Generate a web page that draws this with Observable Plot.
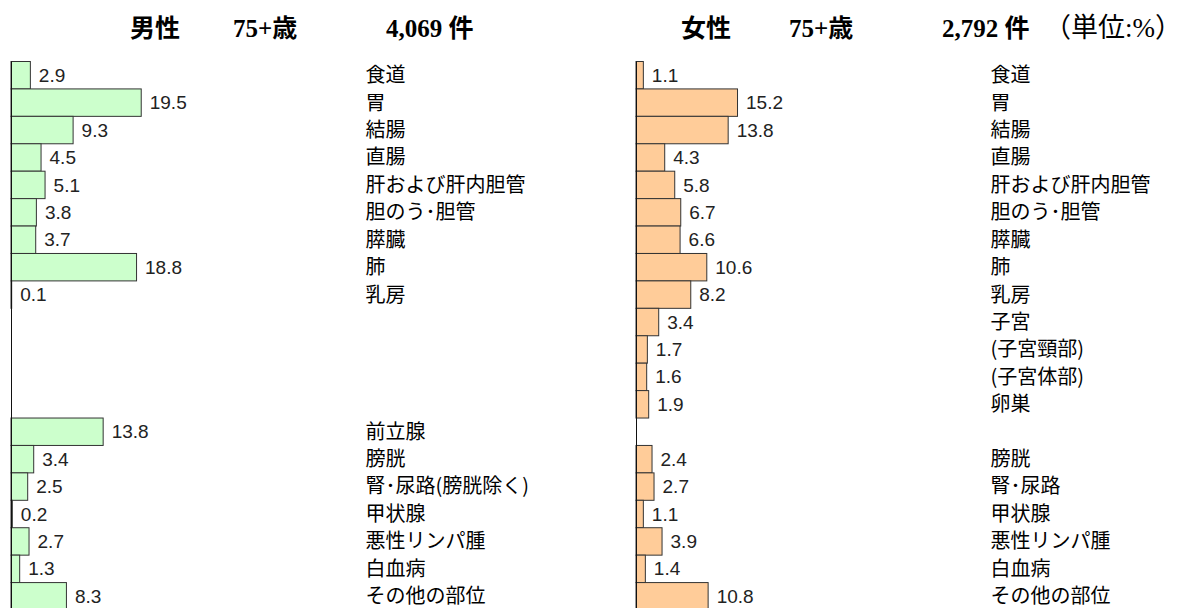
<!DOCTYPE html>
<html>
<head>
<meta charset="utf-8">
<script src="https://cdn.jsdelivr.net/npm/d3@7"></script>
<script src="https://cdn.jsdelivr.net/npm/@observablehq/plot@0.6"></script>
<style>
  html, body { margin: 0; padding: 0; background: #fff; }
  body { width: 1193px; height: 608px; position: relative; overflow: hidden; }
  .t { position: absolute; top: 16px; line-height: 25px; font-size: 25px; font-weight: bold;
       font-family: "Liberation Serif", "Noto Sans CJK JP", serif; white-space: nowrap; color: #000; }
  .u { font-weight: normal; font-size: 27px; }
  .panel { position: absolute; top: 50px; }
</style>
</head>
<body>
<div id="titles"></div>
<div id="male" class="panel" style="left:0px"></div>
<div id="female" class="panel" style="left:596px"></div>
<script>
// ---- data ----
const maleTitle = ["男性", "75+歳", "4,069 件"];
const femaleTitle = ["女性", "75+歳", "2,792 件"];
const unitLabel = "（単位:%）";

const maleLabels = ["食道", "胃", "結腸", "直腸", "肝および肝内胆管", "胆のう･胆管", "膵臓", "肺", "乳房",
  "", "", "", "", "前立腺", "膀胱", "腎･尿路(膀胱除く)", "甲状腺", "悪性リンパ腫", "白血病", "その他の部位"];
const maleValues = [2.9, 19.5, 9.3, 4.5, 5.1, 3.8, 3.7, 18.8, 0.1,
  null, null, null, null, 13.8, 3.4, 2.5, 0.2, 2.7, 1.3, 8.3];

const femaleLabels = ["食道", "胃", "結腸", "直腸", "肝および肝内胆管", "胆のう･胆管", "膵臓", "肺", "乳房",
  "子宮", "(子宮頸部)", "(子宮体部)", "卵巣", "", "膀胱", "腎･尿路", "甲状腺", "悪性リンパ腫", "白血病", "その他の部位"];
const femaleValues = [1.1, 15.2, 13.8, 4.3, 5.8, 6.7, 6.6, 10.6, 8.2,
  3.4, 1.7, 1.6, 1.9, null, 2.4, 2.7, 1.1, 3.9, 1.4, 10.8];

// ---- titles ----
const titleDiv = document.getElementById("titles");
function addTitle(text, left, cls) {
  const s = document.createElement("span");
  s.className = "t" + (cls ? " " + cls : "");
  s.style.left = left + "px";
  s.textContent = text;
  titleDiv.appendChild(s);
}
[130, 233, 386].forEach((l, i) => addTitle(maleTitle[i], l));
[681, 789, 942].forEach((l, i) => addTitle(femaleTitle[i], l));
addTitle(unitLabel, 1044, "u");

// ---- panels ----
function panel(labels, values, fill, width, marginLeft, xMax) {
  const rows = labels.map((label, i) => ({row: i, label, value: values[i]}));
  const withValue = rows.filter(d => d.value != null);
  const withLabel = rows.filter(d => d.label);
  return Plot.plot({
    width, height: 560,
    marginTop: 11.5, marginBottom: 0, marginLeft, marginRight: 0,
    style: {background: "transparent", overflow: "visible"},
    x: {domain: [0, xMax], axis: null},
    y: {domain: d3.range(labels.length), axis: null, padding: 0, round: false},
    marks: [
      Plot.barX(withValue, {x: "value", y: "row", fill, stroke: "#333", strokeWidth: 1}),
      Plot.ruleX([0], {stroke: "#111", strokeWidth: 1}),
      Plot.text(withValue, {x: "value", y: "row", text: d => d.value.toFixed(1),
        textAnchor: "start", dx: 8, fontSize: 19, fill: "#222",
        fontFamily: "Liberation Sans, Arial, sans-serif"}),
      Plot.text(withLabel, {y: "row", text: "label", frameAnchor: "left", dx: 354,
        textAnchor: "start", fontSize: 20, fill: "#000",
        fontFamily: "Noto Sans CJK JP, sans-serif"})
    ]
  });
}
document.getElementById("male").appendChild(panel(maleLabels, maleValues, "#ccffcc", 596, 11, 87.6));
document.getElementById("female").appendChild(panel(femaleLabels, femaleValues, "#ffcc99", 597, 40, 83.4));
</script>
</body>
</html>
